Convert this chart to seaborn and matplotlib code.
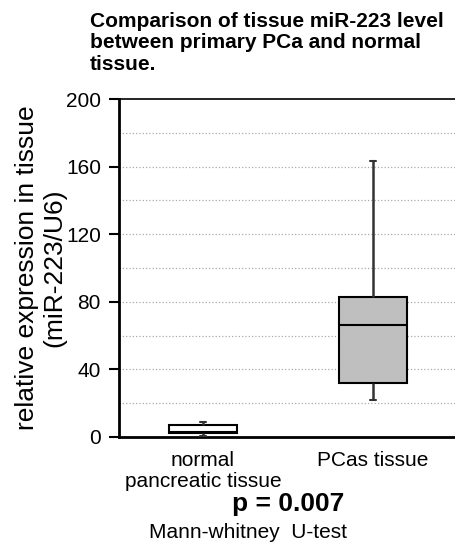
import seaborn as sns
import matplotlib.pyplot as plt
import pandas as pd

# five-number summaries (min, q1, median, q3, max)
groups = ['normal\npancreatic tissue', 'PCas tissue']
normal_values = [0.4, 2.4, 3.0, 7.2, 9.0]
pcas_values = [21.9, 32.1, 66.3, 82.8, 163.3]
box_colors = ['white', '#bfbfbf']
y_ticks = [0, 40, 80, 120, 160, 200]
grid_ticks = [20, 40, 60, 80, 100, 120, 140, 160, 180]

title = 'Comparison of tissue miR-223 level\nbetween primary PCa and normal\ntissue.'
y_label = 'relative expression in tissue\n(miR-223/U6)'
p_text = 'p = 0.007'
test_text = 'Mann-whitney  U-test'

sns.set_style('white')
plt.rcParams['font.family'] = ['Liberation Sans', 'DejaVu Sans']
plt.rcParams['text.color'] = 'black'
plt.rcParams['axes.labelcolor'] = 'black'
plt.rcParams['xtick.color'] = 'black'
plt.rcParams['ytick.color'] = 'black'

df = pd.DataFrame({
    'group': [groups[0]] * len(normal_values) + [groups[1]] * len(pcas_values),
    'value': normal_values + pcas_values,
})

fig = plt.figure(figsize=(4.55, 5.44), dpi=100)
ax = fig.add_axes([0.2615, 0.1967, 0.7385, 0.6213])

sns.boxplot(data=df, x='group', y='value', hue='group', order=groups,
            palette=box_colors, legend=False, width=0.4, whis=(0, 100),
            linecolor='black', linewidth=1.5, ax=ax, zorder=3,
            whiskerprops={'color': '#333333', 'linewidth': 1.8},
            capprops={'color': '#333333'}, capwidths=0.035)

ax.set_ylim(0, 200)
ax.set_xlim(-0.494, 1.482)
ax.set_yticks(y_ticks)
for g in grid_ticks:
    ax.axhline(g, color='#aaaaaa', linestyle=':', linewidth=0.9, zorder=1)
ax.tick_params(axis='y', which='major', direction='out', length=7, width=1.5,
               labelsize=15, pad=6, left=True)
ax.tick_params(axis='x', length=0, labelsize=15, pad=10)
for lab in ax.get_xticklabels():
    lab.set_linespacing(1.15)

ax.spines['right'].set_visible(False)
ax.spines['left'].set_linewidth(2)
ax.spines['bottom'].set_linewidth(2)
ax.spines['top'].set_linewidth(1.2)
for s in ['left', 'bottom', 'top']:
    ax.spines[s].set_color('black')

ax.set_xlabel('')
ax.set_ylabel(y_label, fontsize=19, linespacing=1.15, labelpad=0)

fig.text(90 / 455, 1 - 12 / 544, title, fontsize=15, fontweight='bold',
         ha='left', va='top', linespacing=1.15)
fig.text(288 / 455, 1 - 504 / 544, p_text, fontsize=19, fontweight='bold',
         ha='center', va='center')
fig.text(248 / 455, 1 - 533 / 544, test_text, fontsize=15,
         ha='center', va='center')

plt.savefig('out.png', dpi=100)
